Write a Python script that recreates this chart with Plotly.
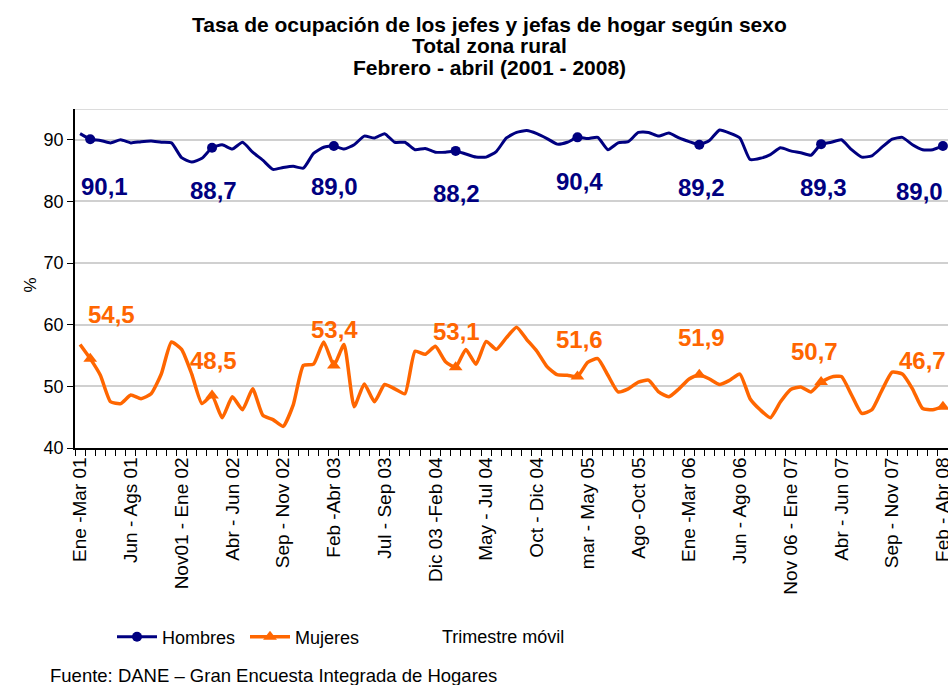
import plotly.graph_objects as go

# ---------------- data ----------------
tick_labels = {
    0: "Ene -Mar 01", 5: "Jun - Ags 01", 10: "Nov01 - Ene 02", 15: "Abr - Jun 02",
    20: "Sep - Nov 02", 25: "Feb -Abr 03", 30: "Jul - Sep 03", 35: "Dic 03 -Feb 04",
    40: "May - Jul 04", 45: "Oct - Dic 04", 50: "mar - May 05", 55: "Ago -Oct 05",
    60: "Ene -Mar 06", 65: "Jun - Ago 06", 70: "Nov 06 - Ene 07", 75: "Abr - Jun 07",
    80: "Sep - Nov 07", 85: "Feb - Abr 08",
}

hombres = [
    91.0, 90.1, 89.9, 89.5, 90.0, 89.5, 89.7, 89.8, 89.6, 89.5,
    87.1, 86.4, 87.0, 88.7, 89.2, 88.5, 89.6, 88.0, 86.7, 85.2,
    85.5, 85.7, 85.4, 87.8, 88.8, 89.0, 88.5, 89.2, 90.6, 90.3,
    91.0, 89.6, 89.6, 88.4, 88.6, 88.0, 88.0, 88.2, 87.7, 87.2,
    87.2, 88.1, 90.3, 91.2, 91.5, 91.0, 90.2, 89.3, 89.6, 90.4,
    90.2, 90.4, 88.4, 89.5, 89.7, 91.2, 91.2, 90.6, 91.1, 90.3,
    89.7, 89.2, 89.9, 91.6, 91.1, 90.3, 86.8, 87.0, 87.6, 88.7,
    88.2, 87.9, 87.5, 89.3, 89.6, 90.0, 88.4, 87.2, 87.4, 88.8,
    90.1, 90.4, 89.2, 88.4, 88.4, 89.0,
]

mujeres = [
    56.8, 54.5, 51.8, 47.5, 47.2, 48.6, 48.0, 48.8, 52.0, 57.2,
    56.0, 52.0, 47.2, 48.5, 44.9, 48.3, 46.2, 49.6, 45.3, 44.6,
    43.5, 47.0, 53.4, 53.6, 57.2, 53.4, 56.8, 46.7, 50.4, 47.5,
    50.3, 49.6, 48.8, 55.7, 55.2, 56.5, 54.0, 53.1, 56.0, 53.6,
    57.3, 56.0, 57.9, 59.6, 57.6, 55.7, 53.2, 51.9, 51.8, 51.6,
    53.9, 54.5, 51.8, 49.1, 49.6, 50.7, 51.0, 49.1, 48.3, 49.6,
    51.2, 51.9, 51.2, 50.3, 51.0, 52.0, 48.0, 46.2, 44.9, 47.5,
    49.5, 49.9, 49.1, 50.7, 51.5, 51.6, 48.6, 45.6, 46.2, 49.4,
    52.3, 52.0, 49.6, 46.4, 46.2, 46.7,
]

marked_idx = [1, 13, 25, 37, 49, 61, 73, 85]

title_lines = [
    "Tasa de ocupación de los jefes y jefas de hogar según sexo",
    "Total zona rural",
    "Febrero - abril (2001 - 2008)",
]

# ---------------- style ----------------
NAVY = "#000080"
ORANGE = "#FF6600"
FONT = "Liberation Sans, Arial, sans-serif"
W, H = 948, 685
ML, MT, MR = 75, 109, 0
MB = H - 448

# label offsets (pixels) for the data labels
h_shift = [(14, -47), (1, -43), (1, -41), (1, -43), (2, -44), (2, -43), (2, -43), (-23, -46)]
m_shift = [(21, 44), (1, 35), (1, 36), (1, 36), (2, 37), (2, 37), (-7, 31), (-20, 46)]

PW = W - ML - MR
PH = H - MT - MB


def px(xp):
    return (xp - ML) / PW


def py(yp):
    return 1 - (yp - MT) / PH


n = len(hombres)
x = list(range(n))

fig = go.Figure()
fig.add_trace(go.Scatter(
    x=x, y=hombres, mode="lines", name="Hombres", showlegend=False,
    line=dict(color=NAVY, width=3, shape="spline", smoothing=0.5),
))
fig.add_trace(go.Scatter(
    x=x, y=mujeres, mode="lines", name="Mujeres", showlegend=False,
    line=dict(color=ORANGE, width=3.5, shape="spline", smoothing=0.5),
))
fig.add_trace(go.Scatter(
    x=marked_idx, y=[hombres[i] for i in marked_idx], mode="markers",
    showlegend=False, marker=dict(symbol="circle", size=10, color=NAVY),
))
fig.add_trace(go.Scatter(
    x=marked_idx, y=[mujeres[i] for i in marked_idx], mode="markers",
    showlegend=False, marker=dict(symbol="triangle-up", size=12, color=ORANGE),
))
# legend entries
fig.add_trace(go.Scatter(
    x=[None], y=[None], mode="lines+markers", name="Hombres",
    line=dict(color=NAVY, width=3), marker=dict(symbol="circle", size=10, color=NAVY),
))
fig.add_trace(go.Scatter(
    x=[None], y=[None], mode="lines+markers", name="Mujeres",
    line=dict(color=ORANGE, width=3.5), marker=dict(symbol="triangle-up", size=12, color=ORANGE),
))


def fmt(v):
    return f"{v:.1f}".replace(".", ",")


for k, i in enumerate(marked_idx):
    fig.add_annotation(
        x=i, y=hombres[i], text=f"<b>{fmt(hombres[i])}</b>", showarrow=False,
        xshift=h_shift[k][0], yshift=h_shift[k][1],
        font=dict(family=FONT, size=24, color=NAVY),
    )
    fig.add_annotation(
        x=i, y=mujeres[i], text=f"<b>{fmt(mujeres[i])}</b>", showarrow=False,
        xshift=m_shift[k][0], yshift=m_shift[k][1],
        font=dict(family=FONT, size=24, color=ORANGE),
    )

# title lines
for txt, yc in zip(title_lines, [24, 46, 68]):
    fig.add_annotation(
        xref="paper", yref="paper", x=px(489), y=py(yc), xanchor="center", yanchor="middle",
        text=f"<b>{txt}</b>", showarrow=False,
        font=dict(family=FONT, size=21, color="black"),
    )

fig.add_annotation(
    xref="paper", yref="paper", x=px(18), y=py(285), text="%", textangle=-90,
    showarrow=False, font=dict(family=FONT, size=17, color="black"),
)
fig.add_annotation(
    xref="paper", yref="paper", x=px(440), y=py(637), xanchor="left", yanchor="middle",
    text="Trimestre móvil", showarrow=False,
    font=dict(family=FONT, size=18, color="black"),
)
fig.add_annotation(
    xref="paper", yref="paper", x=px(48), y=py(675), xanchor="left", yanchor="middle",
    text="Fuente: DANE – Gran Encuesta Integrada de Hogares", showarrow=False,
    font=dict(family=FONT, size=18.5, color="black"),
)
# top border of plot area
fig.add_shape(type="line", xref="paper", yref="y", x0=0, x1=1, y0=95, y1=95,
              line=dict(color="#d0d0d0", width=1.5))

fig.update_layout(
    width=W, height=H,
    margin=dict(l=ML, r=MR, t=MT, b=MB, autoexpand=False),
    paper_bgcolor="white", plot_bgcolor="white",
    legend=dict(
        orientation="h", xref="container", yref="container",
        x=112 / W, y=(H - 637) / H, xanchor="left", yanchor="middle",
        font=dict(family=FONT, size=18, color="black"),
        bgcolor="rgba(0,0,0,0)", itemwidth=40, tracegroupgap=0,
        entrywidth=78, entrywidthmode="pixels",
    ),
    showlegend=True,
)

fig.update_xaxes(
    range=[-0.5, n - 0.5], showgrid=False, zeroline=False,
    tickmode="array", tickvals=list(tick_labels.keys()),
    ticktext=list(tick_labels.values()), tickangle=-90,
    ticks="", showline=True, linecolor="black", linewidth=1.5,
    ticklabeloverflow="allow",
    tickfont=dict(family=FONT, size=19, color="black"),
    minor=dict(ticks="outside", tick0=-0.5, dtick=1, ticklen=6, tickcolor="black", tickwidth=1, showgrid=False),
)
fig.update_yaxes(
    range=[40, 95], tick0=40, dtick=10, showgrid=True, gridcolor="#d0d0d0", gridwidth=1.5,
    zeroline=False, showline=True, linecolor="black", linewidth=1.5,
    ticks="outside", ticklen=6, tickcolor="black",
    tickfont=dict(family=FONT, size=18, color="black"),
)

fig.write_html(
    "out.html",
    config={"displayModeBar": False},
    post_script=(
        "document.body.style.margin='0';"
        "document.body.style.overflow='hidden';"
        "document.documentElement.style.overflow='hidden';"
    ),
)
